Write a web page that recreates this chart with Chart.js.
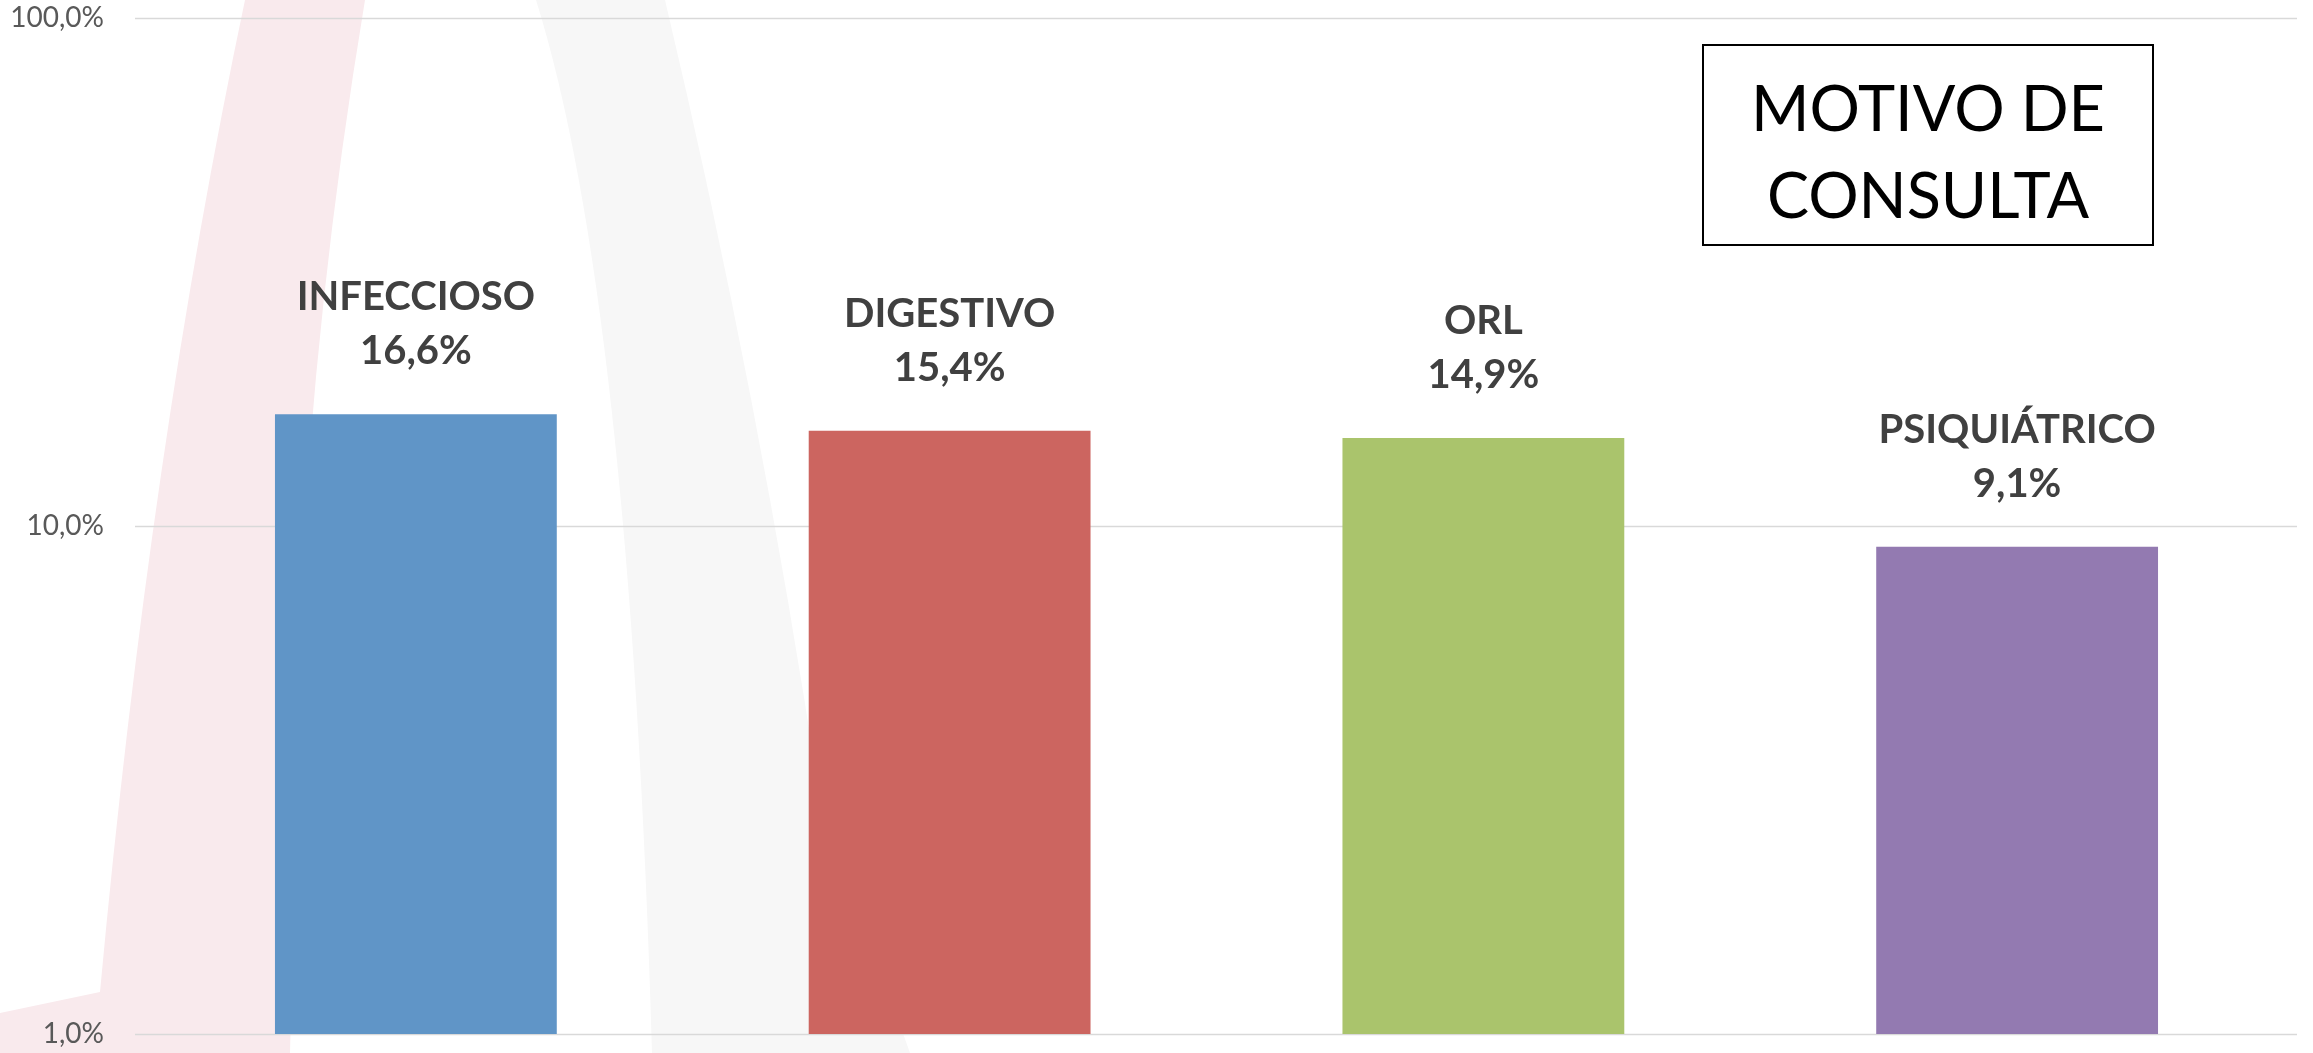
<!DOCTYPE html>
<html>
<head>
<meta charset="utf-8">
<script src="https://cdn.jsdelivr.net/npm/chart.js@4.4.0/dist/chart.umd.min.js"></script>
<style>
  html, body { margin: 0; padding: 0; background: #fff; }
  #wrap { width: 2313px; height: 1053px; position: relative; }
</style>
</head>
<body>
<div id="wrap"><canvas id="myChart"></canvas></div>
<script>
// data
const categories = ['INFECCIOSO', 'DIGESTIVO', 'ORL', 'PSIQUIÁTRICO'];
const percentages = [16.6, 15.4, 14.9, 9.1];
const barColors = ['#6095C7', '#CC6560', '#AAC46C', '#937AB1'];
const tickValues = [1, 10, 100];
const titleLines = ['MOTIVO DE', 'CONSULTA'];

function fmtPct(v, d) {
  return v.toFixed(d).replace('.', ',') + '%';
}

// faint logo in the background (pink stroke + grey arch)
const watermark = {
  id: 'watermark',
  beforeDraw(chart) {
    const ctx = chart.ctx;
    ctx.save();
    ctx.fillStyle = '#f9eaed';
    ctx.beginPath();
    ctx.moveTo(0, 1013);
    ctx.lineTo(100, 992);
    ctx.quadraticCurveTo(150, 450, 245, 0);
    ctx.lineTo(365, 0);
    ctx.quadraticCurveTo(315, 300, 300, 600);
    ctx.lineTo(290, 1053);
    ctx.lineTo(0, 1053);
    ctx.closePath();
    ctx.fill();

    ctx.fillStyle = '#f7f7f7';
    ctx.beginPath();
    ctx.moveTo(536, 0);
    ctx.lineTo(665, 0);
    ctx.quadraticCurveTo(760, 400, 820, 800);
    ctx.lineTo(910, 1053);
    ctx.lineTo(652, 1053);
    ctx.quadraticCurveTo(630, 300, 536, 0);
    ctx.closePath();
    ctx.fill();
    ctx.restore();
  }
};

// gridlines run a bit past the bar area, like the original
const gridLines = {
  id: 'gridLines',
  beforeDatasetsDraw(chart) {
    const ctx = chart.ctx;
    const y = chart.scales.y;
    const area = chart.chartArea;
    ctx.save();
    ctx.strokeStyle = '#d9d9d9';
    ctx.lineWidth = 1.5;
    tickValues.forEach(v => {
      const py = Math.round(y.getPixelForValue(v)) + 0.5;
      ctx.beginPath();
      ctx.moveTo(area.left - 14, py);
      ctx.lineTo(area.right + 13, py);
      ctx.stroke();
    });
    ctx.restore();
  }
};

const barLabels = {
  id: 'barLabels',
  afterDatasetsDraw(chart) {
    const ctx = chart.ctx;
    const meta = chart.getDatasetMeta(0);
    ctx.save();
    ctx.fillStyle = '#404040';
    ctx.textAlign = 'center';
    ctx.textBaseline = 'alphabetic';
    ctx.font = 'bold 40px Lato';
    meta.data.forEach((bar, i) => {
      ctx.fillText(categories[i], bar.x, bar.y - 104);
      ctx.fillText(fmtPct(percentages[i], 1), bar.x, bar.y - 50);
    });
    ctx.restore();
  }
};

const titleBox = {
  id: 'titleBox',
  afterDraw(chart) {
    const ctx = chart.ctx;
    ctx.save();
    ctx.strokeStyle = '#000';
    ctx.lineWidth = 2;
    ctx.strokeRect(1703, 45, 450, 200);
    ctx.fillStyle = '#000';
    ctx.font = '63px Lato';
    ctx.textAlign = 'center';
    ctx.textBaseline = 'alphabetic';
    ctx.fillText(titleLines[0], 1928, 131);
    ctx.fillText(titleLines[1], 1928, 218);
    ctx.restore();
  }
};

const ctx = document.getElementById('myChart');

new Chart(ctx, {
  type: 'bar',
  data: {
    labels: categories,
    datasets: [{
      data: percentages,
      backgroundColor: barColors,
      borderWidth: 0,
      barPercentage: 0.528,
      categoryPercentage: 1
    }]
  },
  options: {
    responsive: true,
    maintainAspectRatio: false,
    animation: false,
    layout: {
      padding: { top: 18, bottom: 19, left: 0, right: 29 }
    },
    scales: {
      x: {
        display: false
      },
      y: {
        type: 'logarithmic',
        min: 1,
        max: 100,
        afterBuildTicks: function (scale) {
          scale.ticks = tickValues.map(v => ({ value: v }));
        },
        afterFit: function (scale) {
          scale.width = 149;
        },
        // grid is drawn by the plugin; tickLength only spaces the labels
        grid: { display: false, drawTicks: true, tickLength: 45 },
        border: { display: false },
        ticks: {
          padding: 0,
          color: '#595959',
          font: { family: 'Lato', size: 28 },
          callback: function (value) {
            return fmtPct(value, 1);
          }
        }
      }
    },
    plugins: {
      legend: { display: false },
      tooltip: { enabled: false }
    }
  },
  plugins: [watermark, gridLines, barLabels, titleBox]
});
</script>
</body>
</html>
